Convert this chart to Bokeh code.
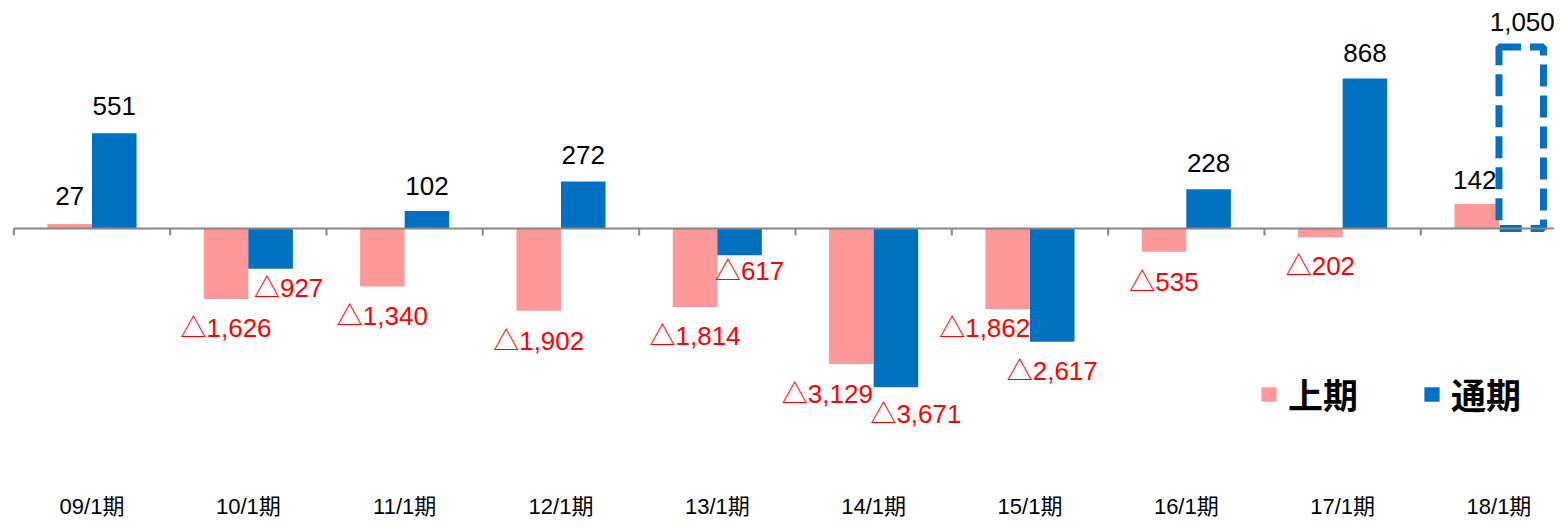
from bokeh.plotting import figure
from bokeh.models import (ColumnDataSource, Range1d, FixedTicker, Legend,
                          LegendItem)
from bokeh.core.properties import value
from bokeh.embed import file_html
from bokeh.resources import INLINE

# ---------------- data ----------------
CATEGORIES = ["09/1期", "10/1期", "11/1期", "12/1期", "13/1期",
              "14/1期", "15/1期", "16/1期", "17/1期", "18/1期"]
FIRST_HALF = [27, -1626, -1340, -1902, -1814, -3129, -1862, -535, -202, 142]    # 上期
FULL_YEAR = [551, -927, 102, 272, -617, -3671, -2617, 228, 868, 1050]          # 通期
FORECAST = [False, False, False, False, False, False, False, False, False, True]
SERIES_NAMES = ["上期", "通期"]

# ---------------- layout / style (not data) ----------------
POS_SCALE = 4          # the source chart draws positive values on a 4x stretched scale
PINK = "#FF9999"
BLUE = "#0070C0"
RED = "#FF0000"
AXIS_GRAY = "#868686"
BAR_W = 0.285
PX = 1 / 0.0435        # data units per screen pixel (vertical)
CAT_PX = 156.33        # screen pixels per category
W, H = 1554, 521
FRAME_BOTTOM = 496
ZERO_PX = 229.5

# per-label screen offsets (pixels) reproducing the manual label placement
PINK_DX = [0, 0, 0, 0, 0, -24, -23, 0, 0, -2]
PINK_DY = [-28, 29, 29, 30, 29, 30, 19, 30, 29, -24]
BLUE_DX = [0, 18, 0, 0, 10, 20, 0, 0, 0, 1]
BLUE_DY = [-27, 19, -25, -27, 16, 27, 29, -26, -25, -25]

LABEL_FONT = "Liberation Sans, Noto Sans CJK JP"


def plot_y(v):
    return v * POS_SCALE if v > 0 else v


def fmt(v):
    return f"△{abs(v):,}" if v < 0 else f"{v:,}"


xs = list(range(len(CATEGORIES)))
pink_x = [x - BAR_W / 2 for x in xs]
blue_x = [x + BAR_W / 2 for x in xs]

pink_src = ColumnDataSource(dict(x=pink_x, top=[plot_y(v) for v in FIRST_HALF]))
blue_solid = ColumnDataSource(dict(
    x=[bx for bx, f in zip(blue_x, FORECAST) if not f],
    top=[plot_y(v) for v, f in zip(FULL_YEAR, FORECAST) if not f]))
blue_fc = ColumnDataSource(dict(
    x=[bx for bx, f in zip(blue_x, FORECAST) if f],
    top=[plot_y(v) for v, f in zip(FULL_YEAR, FORECAST) if f]))

lab = dict(x=[], y=[], text=[], color=[], xo=[], yo=[])
for vals, bx, dxs, dys in ((FIRST_HALF, pink_x, PINK_DX, PINK_DY),
                           (FULL_YEAR, blue_x, BLUE_DX, BLUE_DY)):
    for v, x, dx, dy in zip(vals, bx, dxs, dys):
        lab["x"].append(x)
        lab["y"].append(plot_y(v))
        lab["text"].append(fmt(v))
        lab["color"].append(RED if v < 0 else "black")
        lab["xo"].append(dx)
        lab["yo"].append(dy)
label_src = ColumnDataSource(lab)

x0 = -91.5 / CAT_PX
x1 = x0 + W / CAT_PX
p = figure(width=W, height=H, output_backend="svg", toolbar_location=None,
           x_range=Range1d(x0, x1),
           y_range=Range1d(-(FRAME_BOTTOM - ZERO_PX) * PX, ZERO_PX * PX),
           y_axis_location=None, min_border=0, min_border_bottom=H - FRAME_BOTTOM,
           outline_line_color=None, background_fill_color="white",
           border_fill_color="white")
p.grid.visible = False

# category axis
ax = p.xaxis[0]
ax.ticker = FixedTicker(ticks=xs)
ax.major_label_overrides = {i: c for i, c in enumerate(CATEGORIES)}
ax.axis_line_color = None
ax.major_tick_line_color = None
ax.minor_tick_line_color = None
ax.major_tick_out = 0
ax.major_tick_in = 0
ax.minor_tick_out = 0
ax.minor_tick_in = 0
ax.major_label_standoff = 0
ax.major_label_text_font = LABEL_FONT
ax.major_label_text_font_size = "22px"
ax.major_label_text_color = "black"

# bars
r_pink = p.vbar(x="x", top="top", bottom=0, width=BAR_W, source=pink_src,
                fill_color=PINK, line_color=None)
r_blue = p.vbar(x="x", top="top", bottom=0, width=BAR_W, source=blue_solid,
                fill_color=BLUE, line_color=None)
p.vbar(x="x", top="top", bottom=0, width=BAR_W, source=blue_fc,
       fill_color=None, line_color=BLUE, line_width=7, line_dash="22 9")

# zero line with category separators
p.segment(x0=[-0.5], y0=[0], x1=[x1 + 1], y1=[0], line_color=AXIS_GRAY, line_width=2)
seps = [i + 0.5 for i in range(-1, len(CATEGORIES) - 1)]
p.segment(x0=seps, y0=[0] * len(seps), x1=seps, y1=[-7 * PX] * len(seps),
          line_color=AXIS_GRAY, line_width=2)

# value labels
p.text(x="x", y="y", text="text", source=label_src, text_color="color",
       x_offset="xo", y_offset="yo", text_align="center", text_baseline="middle",
       text_font=value(LABEL_FONT), text_font_size="26px")

legend = Legend(items=[LegendItem(label=SERIES_NAMES[0], renderers=[r_pink]),
                       LegendItem(label=SERIES_NAMES[1], renderers=[r_blue])],
                orientation="horizontal", location=(1259, 74),
                border_line_color=None, background_fill_alpha=0,
                padding=0, margin=0, spacing=64, glyph_width=19, glyph_height=18,
                label_standoff=10, label_text_font_size="35px",
                label_text_font="Noto Sans CJK JP", label_text_font_style="bold",
                label_text_color="black")
p.add_layout(legend)

open("out.html", "w").write(file_html(p, INLINE))
